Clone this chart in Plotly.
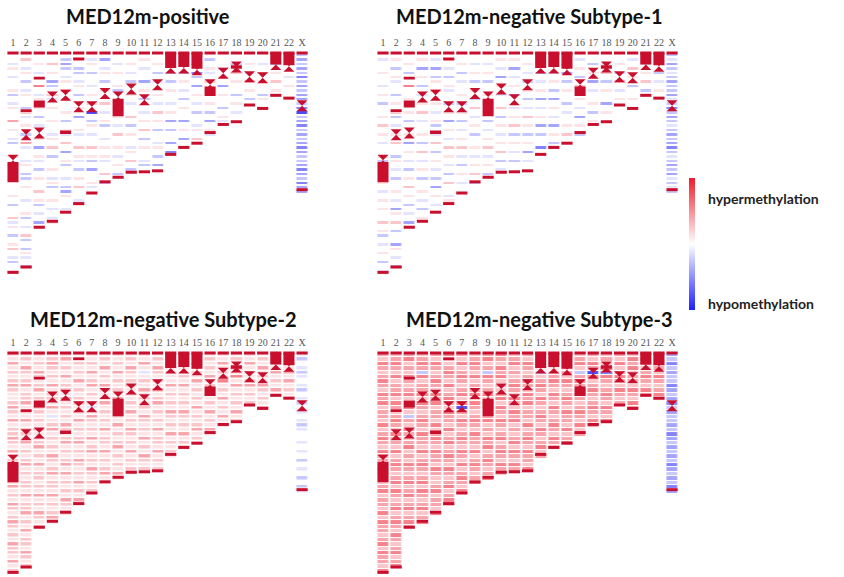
import plotly.graph_objects as go

# ---------------- data ----------------
CHROMS = ["1", "2", "3", "4", "5", "6", "7", "8", "9", "10", "11", "12",
          "13", "14", "15", "16", "17", "18", "19", "20", "21", "22", "X"]
CHROM_LEN_MB = [249.3, 243.2, 198.0, 191.2, 180.9, 171.1, 159.1, 146.4, 141.2,
                135.5, 135.0, 133.9, 115.2, 107.3, 102.5, 90.4, 81.2, 78.1,
                59.1, 63.0, 48.1, 51.3, 155.3]
CENTROMERE_MB = [122, 93, 91, 50, 48, 61, 61, 46, 50, 41, 53, 36, 17, 17, 19,
                 36, 23, 16, 27, 28, 13, 15, 60]
# dark (heterochromatin / stalk) blocks of the ideogram
DARK_CHROM = ["1", "9", "16", "13", "14", "15", "21", "22", "3", "3", "2", "5", "6", "18"]
DARK_START = [124, 52, 38, 0, 0, 0, 0, 0, 54, 27, 64, 88, 5, 14]
DARK_END = [147, 72, 49, 17, 16, 18, 13, 14, 62, 30, 67, 92, 8, 18]

BIN_MB = 5
# methylation level code -> value (-1 hypo ... +1 hyper)
LEVEL_CODES = [".", "1", "2", "3", "4", "5", "a", "b", "c", "d", "e"]
LEVEL_VALUES = [0.0, 0.12, 0.25, 0.4, 0.55, 0.8, -0.12, -0.25, -0.4, -0.55, -0.8]

PANEL_TITLES = ["MED12m-positive", "MED12m-negative Subtype-1",
                "MED12m-negative Subtype-2", "MED12m-negative Subtype-3"]

# one string per chromosome, one character per 5 Mb bin (spaces ignored)
BANDS_POSITIVE = [
    "..a1.a..1b .a1..3.1.a b..1.a..1. ..1.b..2a1 .b.12.ab.1",
    ".2.a1.b.a1 ..b2a.1.b. 3a..a1.bb. 1..a..1b.a .2b.b1a.b",
    "..1.a..4.a 1.1.b.a..1 .c.1a.b.1. .2.1b.a.c1",
    "..2.1.cb.2 a.1..1..a1 .2.b..1.a1 b..1.a.a1",
    ".bcb.a1.2. 1..1.b.1a. 2.c.1b..a. bc1..a.",
    ".4.bb.a1.b ..1.c..1a. .2.1a.b.1. 2..a1",
    ".a1.b..a.1 .2.e.b1.a. .2.1b.c..1 a.",
    ".c.a1.b.1. .2.a.1b..a .1.1a..2.b",
    "..a.1..1b. ..1.1.a.2. .1.a.1.b.",
    "..1.a.b..1 .a..2.b.1. .a1.2.b.",
    ".1.a..c.1. b..a.1.2.b .1..ab.",
    "..1.b.a..1 .a.2.1.b.. a1.b.c.",
    "....b.b.1. .a.1.c.b.. c.d.",
    "....b.1.a. b.1..c.1.c ..",
    "....db.c.1 .a.b..a1.2 .",
    ".b.1a.2... .1.b.c.1a",
    "...a.1.c.1 ..b.1a.",
    "..b.2.1..b .1.a..",
    "..1.a.2.1. b.",
    "..a.2.1..b 1..",
    "..b.1.2.1.",
    "..1..a.1.. .",
    "bcbcbdbcbc cbdebcdbcb cdcbbcdcbd cc",
]
BANDS_SUBTYPE1 = [
    ".a..1..a.1 .b..1.2.1. a..1b.1..1 .a.1.1..2. 1b.a.1.b.a",
    ".1.b.1a..b .1.2b.a.1. 2..b1.a.b. .1.a.c1.2. b..c1.a.b",
    "..1.b..4.. 1a.1.b..1. c.1.a.b.1. 2.1.b.a.c.",
    ".1.c.1.b.a .1.2.a..1. b.2.a.1.b. .1.a.b.1.",
    ".a.c.b1.2. .1.a.1b.a. 2.b.1.a.b. c.1.a.",
    ".4.a.b.1a. .b.1.c.1.a .2.1.a.b.2 ..a1.",
    "..1.b.a..1 .b.1.b.a.1 .2.a.b.1.a ..",
    "..a.1.b.1. b.2.a.1.b. .1.a.1.2.b",
    "..a.1.b..1 .a.1.b.a.1 .2.a.1.b.",
    ".1.a.c.1.a ..2.b.1.a. 1.2.b.a.",
    ".1.c.a.1.b ..a.1.2.b. 1.a.b..",
    "..1.a.b.1. b.a.2.1.b. 1.c.a..",
    "....b.a.1. c.a.1.c.b. .d..",
    "....a.1.b. c.1.a.c.1. b.",
    "....c.b.1. .b.a..1.2. a",
    ".a.1.b.2.. 1.a.c.1.b",
    "..b.1.c.a. .1.b.1..",
    "..a.2.b.1. .c.1..",
    "..1.b.2.a. 1.",
    ".a.2.1.b.. 1.a",
    "..a.1.2.b.",
    "..1.b.a.1. .",
    "bacbabcbbc abdbcbabcb cdbabcbcab ab",
]
BANDS_SUBTYPE2 = [
    "2131212321 1232131223 2131213212 3121321232 1213221312",
    "1213212312 2312131221 3121231212 2131223121 312213212",
    "2121321231 2132121312 2312131221 2131213212",
    "1232121312 2131a12312 1213212312 213121231",
    "2312131221 3121213212 3121231312 1213212",
    "1321213121 2312131212 3121321213 12131",
    "2121312312 12a1321213 1231213212 12",
    "1213121321 2312121312 2131212312",
    "2121312121 3121213121 231212131",
    "1213212312 1213121321 21312121",
    "2131a12131 2121321213 1213212",
    "1213212131 2312121312 2131212",
    "1111211312 1213212131 2121",
    "1111121312 1213212131 21",
    "1111213121 2131212312 1",
    "1212131213 121312131",
    "2131214121 3121312",
    "1213241312 121312",
    "2131212312 12",
    "1213121321 213",
    "1121312131",
    "1121313121 2",
    "ab.aba.ab. ab.a.aba.. a.a.b.a.b. ba",
]
BANDS_SUBTYPE3 = [
    "3243234324 3423324234 3243324322 3423324243 3234243324",
    "2343242334 2432343243 3242343234 2432342343 243234234",
    "3423243234 2342b32432 3423243234 2342342343",
    "2343b42334 2432343243 3242343234 243234234",
    "3243234324 3423324234 3243324322 3423324",
    "4323432423 4324332423 4234324323 42342",
    "3242343234 24e3243234 3243242343 24",
    "2343242334 2432343243 3242343234",
    "3423b43234 2342342324 342343234",
    "4324342323 4243243234 23432432",
    "2342323432 4324342323 4243243",
    "3243234324 3423324234 3243324",
    "1111b23432 4323432432 3423",
    "1111234324 3243234324 32",
    "1111324323 4324332423 4",
    "2342b34324 323432423",
    "3243e42343 2343243",
    "2324d43234 324324",
    "3242343243 23",
    "2434233243 243",
    "2342343243",
    "3243243234 3",
    "cbdbcbbdcb cdbcbbcbdc bcbcbdcbcb dc",
]
PANEL_BANDS = [BANDS_POSITIVE, BANDS_SUBTYPE1, BANDS_SUBTYPE2, BANDS_SUBTYPE3]

# ---------------- layout helpers ----------------
W, H = 844, 577
DARK = "#c8102e"
PX_PER_MB = 0.88
PITCH = 13.14
PANEL_X0 = [13, 383, 13, 383]      # centre of chromosome 1 (px)
PANEL_Y0 = [53, 53, 353, 353]      # top of chromosomes (px)
PANEL_YGAP = [2, 2, 1.5, 1]
Y_TOP_MB, Y_BOT_MB = -4, 252
TITLE_POS = [(148, 16), (529, 16), (163, 319), (539, 319)]

level_map = dict(zip(LEVEL_CODES, LEVEL_VALUES))
n_bins = int(max(CHROM_LEN_MB) // BIN_MB) + 1
bin_centres = [BIN_MB * (k + 0.5) for k in range(n_bins)]
xs = list(range(len(CHROMS)))

fig = go.Figure()
layout = {}
for p in range(4):
    ax = "" if p == 0 else str(p + 1)
    bands = PANEL_BANDS[p]
    z = []
    for k in range(n_bins):
        row = []
        for i, c in enumerate(CHROMS):
            s = bands[i].replace(" ", "")
            if k * BIN_MB < CHROM_LEN_MB[i] and k < len(s):
                row.append(level_map[s[k]])
            else:
                row.append(None)
        z.append(row)
    fig.add_trace(go.Heatmap(x=xs, y=bin_centres, z=z, coloraxis="coloraxis",
                             xgap=2.2, ygap=PANEL_YGAP[p], hoverinfo="skip",
                             xaxis="x" + ax, yaxis="y" + ax))
    # dark heterochromatin blocks
    fig.add_trace(go.Bar(x=[CHROMS.index(c) for c in DARK_CHROM],
                         y=[e - s for s, e in zip(DARK_START, DARK_END)],
                         base=DARK_START, width=0.84,
                         marker=dict(color=DARK, line=dict(width=0)),
                         hoverinfo="skip", showlegend=False,
                         xaxis="x" + ax, yaxis="y" + ax))
    # centromeres
    fig.add_trace(go.Scatter(x=xs, y=CENTROMERE_MB, mode="markers",
                             marker=dict(symbol="hourglass", size=11, color=DARK),
                             cliponaxis=False, hoverinfo="skip", showlegend=False,
                             xaxis="x" + ax, yaxis="y" + ax))
    # telomere caps
    fig.add_trace(go.Scatter(x=xs + xs, y=[0] * len(xs) + CHROM_LEN_MB, mode="markers",
                             marker=dict(symbol="line-ew", size=8,
                                         line=dict(width=3, color=DARK)),
                             cliponaxis=False, hoverinfo="skip", showlegend=False,
                             xaxis="x" + ax, yaxis="y" + ax))

    x_left = PANEL_X0[p] - 0.5 * PITCH
    x_right = PANEL_X0[p] + 22.5 * PITCH
    y_top = PANEL_Y0[p] + Y_TOP_MB * PX_PER_MB
    y_bot = min(PANEL_Y0[p] + Y_BOT_MB * PX_PER_MB, H)
    layout["xaxis" + ax] = dict(domain=[x_left / W, x_right / W], range=[-0.5, 22.5],
                                side="top", tickmode="array", tickvals=xs, ticktext=CHROMS,
                                tickfont=dict(family="Liberation Serif", size=10, color="#555"),
                                ticks="", showgrid=False, zeroline=False, showline=False,
                                anchor="y" + ax, fixedrange=True)
    layout["yaxis" + ax] = dict(domain=[max(0.0, 1 - y_bot / H), 1 - y_top / H],
                                range=[Y_BOT_MB, Y_TOP_MB], visible=False,
                                anchor="x" + ax, fixedrange=True)

annotations = []
for p in range(4):
    annotations.append(dict(x=TITLE_POS[p][0] / W, y=1 - TITLE_POS[p][1] / H,
                            xref="paper", yref="paper", text="<b>%s</b>" % PANEL_TITLES[p],
                            showarrow=False, xanchor="center", yanchor="middle",
                            font=dict(family="Lato", size=20, color="#111")))
annotations.append(dict(x=706 / W, y=1 - 198 / H, xref="paper", yref="paper",
                        text="<b>hypermethylation</b>", showarrow=False,
                        xanchor="left", yanchor="middle",
                        font=dict(family="Lato", size=14, color="#222")))
annotations.append(dict(x=706 / W, y=1 - 303 / H, xref="paper", yref="paper",
                        text="<b>hypomethylation</b>", showarrow=False,
                        xanchor="left", yanchor="middle",
                        font=dict(family="Lato", size=14, color="#222")))

fig.update_layout(
    width=W, height=H, margin=dict(l=0, r=0, t=0, b=0),
    paper_bgcolor="white", plot_bgcolor="rgba(0,0,0,0)",
    showlegend=False, barmode="overlay",
    coloraxis=dict(cmin=-1, cmax=1,
                   colorscale=[[0, "#1f1fff"], [0.5, "#ffffff"], [1, "#ee1c2c"]],
                   colorbar=dict(x=689 / W, xanchor="left", y=1 - 244 / H, yanchor="middle",
                                 len=132 / H, lenmode="fraction", thickness=6,
                                 showticklabels=False, ticks="", outlinewidth=0,
                                 xpad=0, ypad=0)),
    annotations=annotations,
    **layout,
)

fig.write_html("out.html", config={"displayModeBar": False},
               post_script="document.body.style.margin='0';document.body.style.overflow='hidden';")
